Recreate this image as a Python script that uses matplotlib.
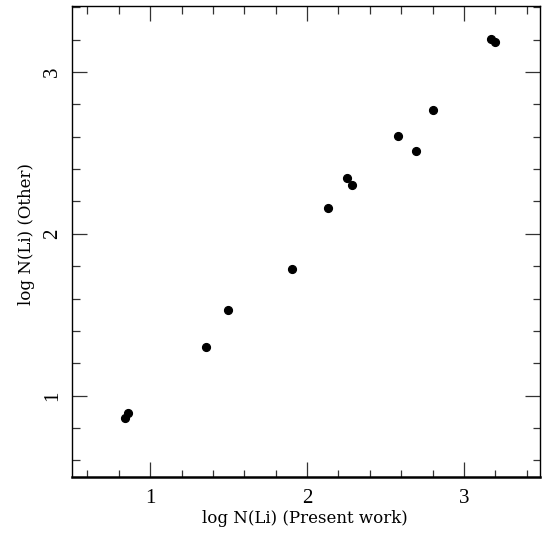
import numpy as np
import matplotlib
matplotlib.use("Agg")
import matplotlib.pyplot as plt
from matplotlib.ticker import MultipleLocator

# lithium abundances: present work vs. other studies
li_present = [0.837, 0.860, 1.359, 1.497, 1.907, 2.135, 2.255, 2.289,
              2.583, 2.695, 2.806, 3.172, 3.196]
li_other = [0.859, 0.892, 1.302, 1.532, 1.783, 2.162, 2.344, 2.304,
            2.603, 2.513, 2.766, 3.207, 3.186]
major_ticks = [1, 2, 3]

plt.rcParams['font.family'] = ['Liberation Serif', 'DejaVu Serif']

fig = plt.figure(figsize=(5.49, 5.36), dpi=100)
ax = fig.add_axes([0.1306, 0.111, 0.853, 0.8769])

ax.plot(li_present, li_other, 'o', color='black', markersize=5.6)

ax.set_xlim(0.5, 3.485)
ax.set_ylim(0.5, 3.405)

ax.set_xticks(major_ticks)
ax.set_yticks(major_ticks)
ax.xaxis.set_minor_locator(MultipleLocator(0.2))
ax.yaxis.set_minor_locator(MultipleLocator(0.2))

ax.tick_params(which='both', direction='in', top=True, right=True,
               width=0.9, color='#333333')
ax.tick_params(which='major', length=10.8, labelsize=15)
ax.tick_params(which='minor', length=5.4)
ax.tick_params(axis='x', which='major', pad=9)
ax.tick_params(axis='y', which='major', pad=7, labelrotation=90)
for lab in ax.get_yticklabels():
    lab.set_va('center')

for side in ['left', 'right', 'top']:
    ax.spines[side].set_linewidth(1.0)
ax.spines['bottom'].set_linewidth(1.8)

lab_font = dict(family='DejaVu Serif', fontsize=12)
ax.set_xlabel('log N(Li) (Present work)', **lab_font)
ax.set_ylabel('log N(Li) (Other)', **lab_font)
ax.xaxis.set_label_coords(0.497, -0.072)
ax.yaxis.set_label_coords(-0.079, 0.517)

fig.savefig('out.png', dpi=100)
